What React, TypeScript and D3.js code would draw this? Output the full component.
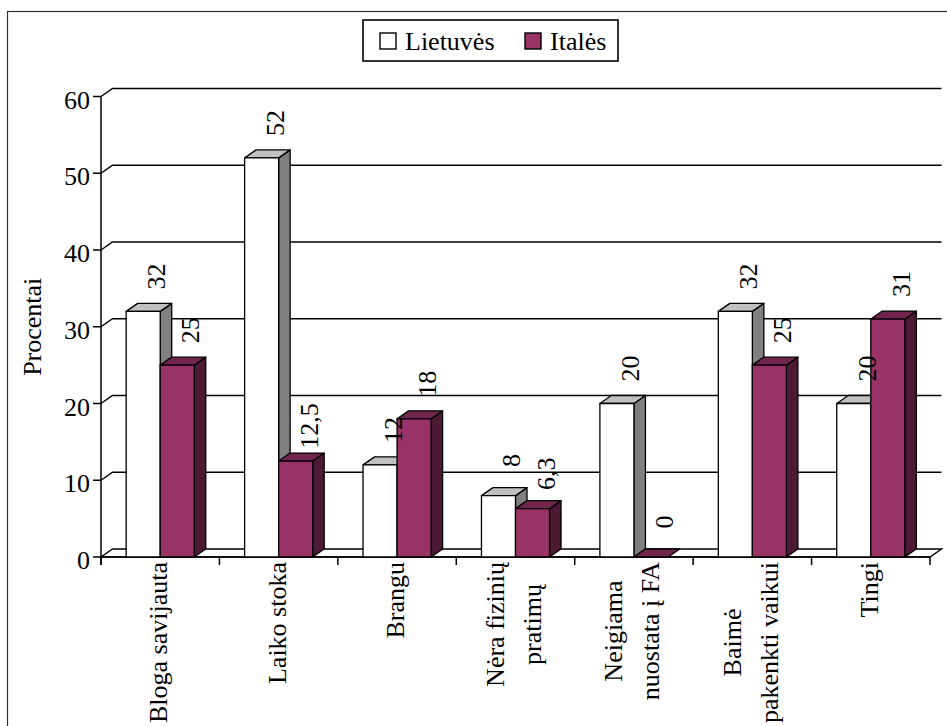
import React, { useLayoutEffect, useRef, useState } from "react";
import * as d3 from "d3";

// Reasons for not exercising, share of respondents (%)
const categories: string[][] = [
  ["Bloga savijauta"],
  ["Laiko stoka"],
  ["Brangu"],
  ["Nėra fizinių", "pratimų"],
  ["Neigiama", "nuostata į FA"],
  ["Baimė", "pakenkti vaikui"],
  ["Tingi"],
];
const seriesNames = ["Lietuvės", "Italės"];
const lietuves = [32, 52, 12, 8, 20, 32, 20];
const itales = [25, 12.5, 18, 6.3, 0, 25, 31];
const yTicks = [0, 10, 20, 30, 40, 50, 60];
const yTitle = "Procentai";

const W = 947;
const H = 726;
const FS = 26;

const fills = [
  { front: "#ffffff", top: "#c0c0c0", side: "#808080" },
  { front: "#993366", top: "#73264d", side: "#4d1a33" },
];

const locale = d3.formatLocale({
  decimal: ",",
  thousands: " ",
  grouping: [3],
  currency: ["", ""],
});
const fmt = locale.format("~g");

export default function App() {
  const x0 = 101;
  const x1 = 930;
  const yBottom = 557;
  const yTop = 96.5;
  const dx = 11.5;
  const dy = -8;

  const x = d3
    .scaleBand<number>()
    .domain(d3.range(categories.length))
    .range([x0, x1])
    .padding(0);
  const xs = d3
    .scaleBand<number>()
    .domain(d3.range(seriesNames.length))
    .range([0, x.bandwidth()])
    .paddingInner(0)
    .paddingOuter(0.74);
  const y = d3.scaleLinear().domain([0, 60]).range([yBottom, yTop]);

  const data = [lietuves, itales];

  // widest line of each category label, measured after layout
  const labelRef = useRef<SVGGElement>(null);
  const [lens, setLens] = useState<number[]>(() =>
    categories.map((lines) => Math.max(...lines.map((l) => l.length * FS * 0.42)))
  );
  useLayoutEffect(() => {
    const g = labelRef.current;
    if (!g) return;
    const measured = categories.map((_, i) => {
      const texts = g.querySelectorAll(`text[data-cat="${i}"]`);
      let m = 0;
      texts.forEach((t) => {
        m = Math.max(m, (t as SVGTextElement).getComputedTextLength());
      });
      return m;
    });
    if (measured.some((m, i) => Math.abs(m - lens[i]) > 0.5)) setLens(measured);
  }, [lens]);

  const bw = xs.bandwidth();
  const poly = (pts: [number, number][]) =>
    pts.map((p) => p.join(",")).join(" ");

  return (
    <svg
      width={W}
      height={H}
      fontFamily="Liberation Serif"
      fontSize={FS}
      style={{ position: "absolute", left: 0, top: 0, display: "block", background: "#fff" }}
    >
      <rect x={0} y={0} width={W} height={H} fill="#fff" />
      {/* outer chart frame */}
      <rect x={7.5} y={11.5} width={W + 50} height={H + 50} fill="none" stroke="#333" strokeWidth={1.2} />

      {/* legend */}
      <rect x={363} y={20} width={255} height={41} fill="#fff" stroke="#000" strokeWidth={1.6} />
      {seriesNames.map((name, i) => {
        const lx = i === 0 ? 380 : 525;
        return (
          <g key={name}>
            <rect x={lx} y={33} width={16} height={16} fill={fills[i].front} stroke="#000" strokeWidth={1.4} />
            <text x={lx + 25} y={50}>{name}</text>
          </g>
        );
      })}

      {/* floor */}
      <polygon
        points={poly([
          [x0, yBottom],
          [x1, yBottom],
          [x1 + dx, yBottom + dy],
          [x0 + dx, yBottom + dy],
        ])}
        fill="#fff"
        stroke="#000"
        strokeWidth={1.4}
      />

      {/* gridlines on the back wall */}
      {yTicks
        .filter((t) => t > 0)
        .map((t) => (
          <path
            key={t}
            d={`M${x0},${y(t)}L${x0 + dx},${y(t) + dy}L${x1 + dx},${y(t) + dy}`}
            fill="none"
            stroke="#000"
            strokeWidth={1.5}
          />
        ))}

      {/* value axis */}
      <line x1={x0} x2={x0} y1={y(60)} y2={yBottom + 8} stroke="#000" strokeWidth={1.5} />
      {yTicks.map((t) => (
        <g key={t}>
          <line x1={x0 - 8} x2={x0} y1={y(t)} y2={y(t)} stroke="#000" strokeWidth={1.5} />
          <text x={x0 - 11} y={y(t) + 12} textAnchor="end">
            {t}
          </text>
        </g>
      ))}
      <text transform={`translate(41,${(y(60) + yBottom) / 2}) rotate(-90)`} textAnchor="middle">
        {yTitle}
      </text>

      {/* category axis */}
      <line x1={x0} x2={x1} y1={yBottom} y2={yBottom} stroke="#000" strokeWidth={1.5} />
      {d3.range(categories.length + 1).map((i) => {
        const xx = x0 + i * x.bandwidth();
        return <line key={i} x1={xx} x2={xx} y1={yBottom} y2={yBottom + 8} stroke="#000" strokeWidth={1.5} />;
      })}
      <g ref={labelRef}>
        {categories.map((lines, i) => {
          const cx = (x(i) as number) + x.bandwidth() / 2;
          const cy = 562 + lens[i] / 2;
          const spacing = 37;
          return lines.map((ln, j) => {
            const bx = cx + 7 + (j - (lines.length - 1) / 2) * spacing;
            return (
              <text
                key={`${i}-${j}`}
                data-cat={i}
                transform={`translate(${bx},${cy}) rotate(-90)`}
                textAnchor="middle"
              >
                {ln}
              </text>
            );
          });
        })}
      </g>

      {/* 3D columns */}
      {categories.map((_, i) =>
        data.map((vals, s) => {
          const v = vals[i];
          const left = (x(i) as number) + (xs(s) as number);
          const right = left + bw;
          const top = y(v);
          const f = fills[s];
          return (
            <g key={`${i}-${s}`} stroke="#000" strokeWidth={1.3} strokeLinejoin="round">
              <polygon
                points={poly([
                  [right, top],
                  [right + dx, top + dy],
                  [right + dx, yBottom + dy],
                  [right, yBottom],
                ])}
                fill={f.side}
              />
              <polygon
                points={poly([
                  [left, top],
                  [right, top],
                  [right + dx, top + dy],
                  [left + dx, top + dy],
                ])}
                fill={f.top}
              />
              {v > 0 && <rect x={left} y={top} width={bw} height={yBottom - top} fill={f.front} />}
            </g>
          );
        })
      )}

      {/* value labels */}
      {categories.map((_, i) =>
        data.map((vals, s) => {
          const v = vals[i];
          const left = (x(i) as number) + (xs(s) as number);
          const top = y(v);
          return (
            <text
              key={`l-${i}-${s}`}
              transform={`translate(${left + 39},${top - 35}) rotate(-90)`}
              textAnchor="middle"
            >
              {fmt(v)}
            </text>
          );
        })
      )}
    </svg>
  );
}
